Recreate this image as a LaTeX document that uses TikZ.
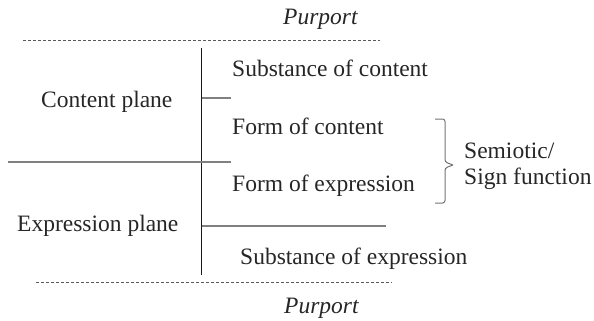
\documentclass[tikz,border=0pt]{standalone}
\usepackage{fontspec}
\setmainfont{Liberation Serif}

\tikzset{
    lbl/.style={
        anchor=base west,
        inner sep=0pt,
        text=black!85
    },
    rule/.style={
        draw=black!50,
        line width=1.2pt
    },
    axis/.style={
        draw=black!90,
        line width=.9pt
    },
    purport/.style={
        draw=black!65,
        line width=.8pt,
        dash pattern=on 3pt off 2pt
    },
    bracket/.style={
        draw=black!55,
        line width=1pt,
        rounded corners=2.5pt
    }
}

\begin{document}
\begin{tikzpicture}[x=1pt,y=-1pt]
\fontsize{23.5}{28}\selectfont
\useasboundingbox (0,0) rectangle (594,321);
		\path
			node[lbl,font=\itshape] at (283,25) (ptop) {Purport}
			node[lbl,font=\itshape] at (284,313) (pbot) {Purport}
			;
		\path
			node[lbl] at (41,107) (cplane) {Content plane}
			node[lbl] at (17,231) (eplane) {Expression plane}
			;
		\path
			node[lbl] at (232,76) (subc) {Substance of content}
			node[lbl] at (232,134) (formc) {Form of content}
			node[lbl] at (232,191) (forme) {Form of expression}
			node[lbl] at (240,264) (sube) {Substance of expression}
			;
		\path
			node[lbl] at (464,158) (semio) {Semiotic/}
			node[lbl] at (464,184) (signf) {Sign function}
			;
		% line ends
		\path
			coordinate (dt1) at (23,40)   coordinate (dt2) at (380,40)
			coordinate (db1) at (36,282)  coordinate (db2) at (392,282)
			coordinate (ax1) at (201.5,48) coordinate (ax2) at (201.5,275)
			coordinate (tk1) at (201.5,98) coordinate (tk2) at (231,98)
			coordinate (md1) at (8,162)   coordinate (md2) at (231,162)
			coordinate (lw1) at (201.5,226) coordinate (lw2) at (386,226)
			coordinate (br1) at (435,119) coordinate (br2) at (435,203)
			coordinate (brt) at (453,165)
			;
		\path [purport]
			(dt1) edge (dt2)
			(db1) edge (db2)
			;
		\path [axis]
			(ax1) edge (ax2)
			;
		\path [rule]
			(tk1) edge (tk2)
			(md1) edge (md2)
			(lw1) edge (lw2)
			;
		\draw [bracket]
			(br1) -- ++(10,0) -- (445,162) -- (brt)
			(brt) -- (445,168) -- (445,203) -- (br2);
\end{tikzpicture}
\end{document}
